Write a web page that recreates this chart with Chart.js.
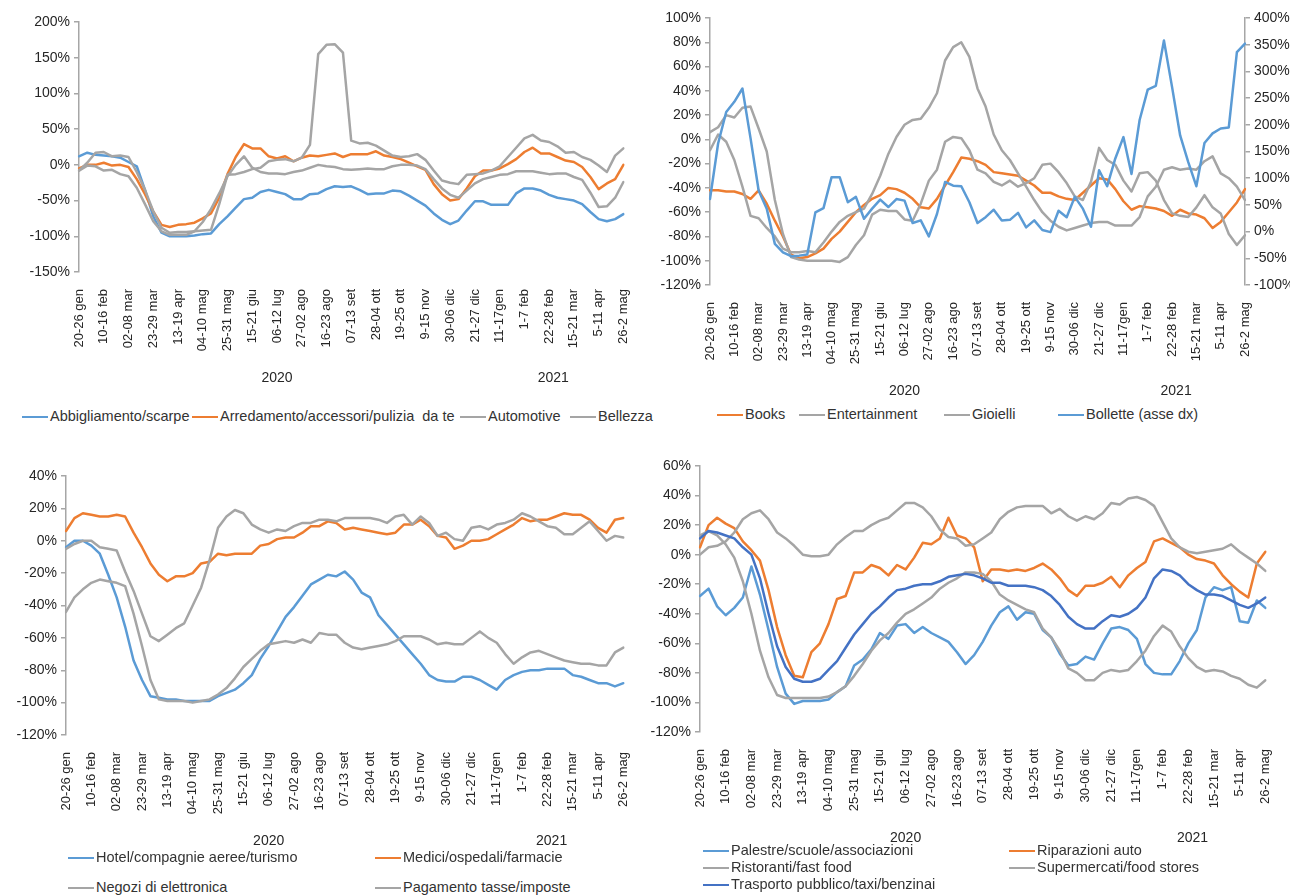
<!DOCTYPE html>
<html>
<head>
<meta charset="utf-8">
<script src="https://cdn.jsdelivr.net/npm/chart.js@4.4.0/dist/chart.umd.min.js"></script>
<style>
  html, body { margin: 0; padding: 0; background: #fff; }
  body { width: 1290px; height: 895px; position: relative; overflow: hidden;
         font-family: "Liberation Sans", Arial, sans-serif; color: #333; }
  canvas { position: absolute; }
  .lg { position: absolute; font-size: 14.5px; line-height: 18px; white-space: pre; }
  .lg i { display: inline-block; width: 26px; height: 2.5px; vertical-align: middle; margin-right: 2px; }
</style>
</head>
<body>
<canvas id="c1" width="648" height="400" style="left:0;top:0"></canvas>
<canvas id="c2" width="645" height="400" style="left:645px;top:0"></canvas>
<canvas id="c3" width="648" height="420" style="left:0;top:440px"></canvas>
<canvas id="c4" width="645" height="420" style="left:645px;top:440px"></canvas>
<script>
// week axis: one label every third week
const tickLabels = ["20-26 gen", "10-16 feb", "02-08 mar", "23-29 mar", "13-19 apr", "04-10 mag",
  "25-31 mag", "15-21 giu", "06-12 lug", "27-02 ago", "16-23 ago", "07-13 set", "28-04 ott",
  "19-25 ott", "9-15 nov", "30-06 dic", "21-27 dic", "11-17gen", "1-7 feb", "22-28 feb",
  "15-21 mar", "5-11 apr", "26-2 mag"];
const yearLabels = ["2020", "2021"];
const yearFrom = [0, 49];
const yearTo = [48, 66];

// top left
const abbigliamento = [12, 17, 14, 13, 12, 10, 4, -2, -35, -72, -95, -100, -100, -100, -99, -97, -96, -83, -72, -60,
  -48, -46, -38, -35, -38, -41, -48, -48, -41, -40, -34, -30, -31, -30, -35, -41, -40, -40, -36, -37,
  -43, -50, -57, -68, -77, -83, -78, -64, -51, -51, -56, -56, -56, -40, -33, -33, -36, -42, -46, -48,
  -50, -55, -66, -76, -79, -76, -69];
const arredamento = [-5, 0, 0, 3, -1, 0, -3, -20, -41, -65, -84, -87, -84, -83, -81, -75, -68, -46, -13, 11,
  29, 23, 23, 12, 9, 12, 5, 10, 13, 12, 14, 16, 11, 15, 15, 15, 19, 13, 11, 8,
  3, -2, -7, -27, -41, -50, -48, -33, -16, -8, -8, -5, 1, 8, 18, 24, 16, 16, 11, 6,
  4, -3, -17, -34, -26, -20, 0];
const automotive = [-8, 3, 17, 18, 12, 13, 11, -10, -35, -65, -88, -95, -94, -94, -93, -92, -91, -55, -14, -13,
  -10, -6, -4, 5, 7, 8, 5, 10, 28, 155, 168, 169, 157, 34, 30, 31, 27, 20, 13, 11,
  12, 15, 7, -8, -22, -25, -27, -14, -13, -12, -8, -2, 11, 24, 37, 42, 34, 32, 26, 17,
  18, 11, 7, -1, -10, 13, 23];
const bellezza = [-8, -1, -2, -8, -7, -13, -16, -32, -55, -79, -93, -98, -98, -98, -93, -80, -62, -40, -16, 0,
  12, -4, -10, -12, -12, -13, -10, -8, -4, 0, -2, -3, -6, -7, -6, -5, -6, -6, -2, 0,
  0, -1, -6, -20, -33, -42, -46, -36, -26, -20, -17, -14, -13, -9, -9, -9, -11, -13, -12, -12,
  -17, -21, -39, -59, -58, -46, -24];

// top right (bollette on the right axis)
const books = [-42, -42, -43, -43, -45, -49, -42, -53, -67, -80, -95, -98, -97, -94, -90, -82, -76, -68, -60, -54,
  -49, -46, -40, -41, -44, -49, -56, -57, -49, -38, -27, -15, -16, -18, -21, -27, -28, -29, -30, -34,
  -38, -44, -44, -47, -49, -50, -44, -38, -32, -33, -41, -51, -58, -55, -56, -57, -59, -63, -58, -61,
  -62, -65, -73, -68, -60, -52, -41];
const entertainment = [6, 10, 20, 18, 26, 27, 9, -10, -50, -78, -97, -99, -100, -100, -100, -100, -101, -97, -87, -79,
  -62, -58, -59, -59, -66, -67, -53, -34, -25, -2, 2, 1, -9, -25, -28, -35, -38, -34, -39, -36,
  -32, -21, -20, -27, -36, -47, -50, -35, -7, -17, -21, -34, -43, -28, -27, -34, -50, -61, -63, -64,
  -56, -46, -56, -61, -78, -87, -79];
const gioielli = [-9, 4, -2, -17, -39, -63, -65, -73, -80, -90, -93, -93, -92, -93, -85, -76, -68, -63, -60, -57,
  -45, -30, -12, 2, 12, 16, 17, 26, 38, 65, 76, 80, 68, 42, 27, 4, -9, -17, -28, -39,
  -50, -60, -67, -72, -75, -73, -71, -69, -68, -68, -71, -71, -71, -64, -47, -39, -25, -23, -25, -24,
  -25, -18, -14, -28, -32, -39, -50];
const bollette = [61, 165, 224, 243, 268, 175, 77, 43, -23, -39, -46, -45, -43, 36, 44, 102, 102, 55, 65, 24,
  43, 60, 46, 61, 58, 16, 21, -9, 33, 93, 86, 85, 55, 16, 27, 41, 21, 22, 35, 8,
  21, 3, -1, 39, 27, 65, 43, 9, 115, 85, 137, 177, 108, 209, 266, 273, 358, 271, 180, 130,
  85, 166, 184, 193, 195, 336, 352];

// bottom left
const hotel = [-4, 0, 0, -3, -8, -21, -35, -53, -74, -86, -96, -97, -98, -98, -99, -99, -99, -99, -96, -94,
  -92, -88, -83, -73, -65, -56, -47, -41, -34, -27, -24, -21, -22, -19, -24, -32, -35, -46, -52, -58,
  -64, -70, -76, -83, -86, -87, -87, -84, -84, -86, -89, -92, -86, -83, -81, -80, -80, -79, -79, -79,
  -83, -84, -86, -88, -88, -90, -88];
const medici = [6, 14, 17, 16, 15, 15, 16, 15, 5, -4, -14, -21, -25, -22, -22, -20, -14, -13, -8, -9,
  -8, -8, -8, -3, -2, 1, 2, 2, 5, 9, 9, 12, 11, 7, 8, 7, 6, 5, 4, 5,
  10, 10, 13, 9, 3, 2, -5, -3, 0, 0, 1, 4, 7, 10, 14, 12, 13, 13, 15, 17,
  16, 16, 13, 8, 5, 13, 14];
const negozi = [-5, -2, 0, 0, -4, -5, -6, -19, -31, -45, -59, -62, -58, -54, -51, -40, -29, -12, 8, 15,
  19, 17, 10, 7, 5, 7, 6, 9, 11, 11, 13, 13, 12, 14, 14, 14, 14, 13, 11, 15,
  16, 10, 15, 11, 3, 5, 1, 0, 8, 9, 7, 10, 11, 13, 17, 15, 12, 9, 8, 4,
  4, 8, 12, 6, 0, 3, 2];
const pagamento = [-44, -35, -30, -26, -24, -25, -26, -28, -45, -65, -86, -98, -99, -99, -99, -100, -99, -98, -95, -91,
  -85, -78, -73, -68, -64, -63, -62, -63, -61, -63, -57, -58, -58, -63, -66, -67, -66, -65, -64, -62,
  -59, -59, -59, -61, -64, -63, -64, -64, -60, -56, -60, -63, -70, -76, -72, -69, -68, -70, -72, -74,
  -75, -76, -76, -77, -77, -69, -66];

// bottom right
const palestre = [-28, -23, -35, -41, -36, -29, -8, -27, -51, -76, -94, -101, -99, -99, -99, -98, -93, -89, -75, -71,
  -64, -53, -57, -48, -47, -53, -49, -53, -56, -59, -66, -74, -68, -59, -48, -39, -35, -44, -39, -40,
  -51, -56, -67, -75, -74, -69, -71, -60, -50, -49, -51, -57, -74, -80, -81, -81, -72, -60, -51, -29,
  -22, -24, -22, -45, -46, -31, -36];
const riparazioni = [5, 20, 25, 21, 18, 9, 3, -4, -24, -49, -68, -82, -83, -66, -60, -47, -30, -28, -12, -12,
  -7, -9, -14, -7, -10, -2, 8, 7, 11, 25, 13, 11, 5, -18, -10, -10, -11, -10, -11, -9,
  -6, -10, -16, -24, -28, -21, -21, -19, -15, -22, -14, -9, -5, 9, 11, 8, 5, 0, -3, -4,
  -6, -14, -20, -25, -29, -6, 2];
const ristoranti = [13, 16, 13, 7, -2, -18, -40, -65, -83, -95, -97, -97, -97, -97, -97, -96, -93, -89, -82, -74,
  -65, -58, -53, -46, -40, -37, -33, -29, -23, -19, -16, -12, -12, -13, -18, -27, -31, -34, -37, -39,
  -50, -56, -65, -77, -80, -85, -85, -80, -78, -79, -78, -72, -65, -55, -48, -52, -62, -70, -76, -79,
  -78, -79, -82, -84, -88, -90, -85];
const supermercati = [0, 5, 6, 9, 15, 24, 28, 30, 24, 15, 11, 6, 0, -1, -1, 0, 7, 12, 16, 16,
  20, 23, 25, 30, 35, 35, 32, 26, 17, 12, 11, 6, 7, 11, 15, 24, 29, 32, 33, 33,
  33, 28, 31, 26, 23, 26, 24, 28, 35, 34, 38, 39, 37, 33, 22, 11, 5, 2, 1, 2,
  3, 4, 7, 2, -2, -6, -11];
const trasporto = [11, 16, 15, 13, 11, 5, 0, -16, -40, -62, -76, -84, -86, -86, -84, -78, -72, -63, -54, -47,
  -40, -35, -29, -24, -23, -21, -20, -20, -18, -15, -14, -13, -14, -16, -19, -19, -21, -21, -21, -22,
  -24, -28, -34, -42, -47, -50, -50, -45, -41, -42, -40, -36, -29, -16, -10, -11, -14, -20, -24, -27,
  -27, -28, -31, -34, -36, -33, -29];

const weeks = abbigliamento.map((_, i) => (i % 3 === 0 ? tickLabels[i / 3] : ""));

const BLUE = "#5B9BD5", ORANGE = "#ED7D31", GRAY = "#A5A5A5", NAVY = "#4472C4";
const AXIS = "#A6A6A6", TEXT = "#262626";

function series(label, data, color, axis) {
  return {
    label, data, borderColor: color, backgroundColor: color,
    borderWidth: 2.5, pointRadius: 0, tension: 0, fill: false,
    borderJoinStyle: "round", borderCapStyle: "round", yAxisID: axis || "y"
  };
}

function yAxis(min, max, step, width, position) {
  return {
    position: position || "left", min, max,
    afterFit: (s) => { s.width = width; },
    border: { display: true, color: AXIS, width: 1.5 },
    grid: { drawOnChartArea: false, drawTicks: true, tickLength: 5, color: AXIS, lineWidth: 1.5 },
    ticks: {
      stepSize: step, padding: 4, color: TEXT,
      font: { family: "Liberation Sans", size: 14 },
      callback: (v) => v + "%"
    }
  };
}

const yearPlugin = {
  id: "years",
  afterDraw(chart) {
    const x = chart.scales.x;
    const ctx = chart.ctx;
    ctx.save();
    ctx.font = "14px 'Liberation Sans'";
    ctx.fillStyle = TEXT;
    ctx.textAlign = "center";
    ctx.textBaseline = "middle";
    yearLabels.forEach((y, i) => {
      const px = (x.getPixelForValue(yearFrom[i]) + x.getPixelForValue(yearTo[i])) / 2;
      ctx.fillText(y, px, chart.chartArea.bottom + 106);
    });
    ctx.restore();
  }
};

function makeChart(id, datasets, scales, pad, xHeight) {
  const n = datasets.length;
  datasets.forEach((d, i) => { d.order = n - i; });
  scales.x = {
    afterFit: (s) => { s.height = xHeight; },
    border: { display: false },
    grid: { display: false },
    ticks: {
      autoSkip: false, maxRotation: 90, minRotation: 90, padding: 9, color: TEXT,
      font: { family: "Liberation Sans", size: 13 }
    }
  };
  return new Chart(document.getElementById(id), {
    type: "line",
    data: { labels: weeks, datasets },
    options: {
      responsive: false,
      animation: false,
      layout: { padding: { top: pad.top, right: pad.right, left: 0, bottom: 0 } },
      plugins: { legend: { display: false }, tooltip: { enabled: false } },
      scales
    },
    plugins: [yearPlugin]
  });
}

function legend(chart, spots) {
  chart.data.datasets.forEach((ds, i) => {
    const d = document.createElement("div");
    d.className = "lg";
    d.style.left = spots[i][0] + "px";
    d.style.top = (spots[i][1] - 9) + "px";
    const mark = document.createElement("i");
    mark.style.background = ds.borderColor;
    const txt = document.createElement("span");
    txt.textContent = ds.label;
    d.appendChild(mark);
    d.appendChild(txt);
    document.body.appendChild(d);
  });
}

const ch1 = makeChart("c1", [
  series("Abbigliamento/scarpe", abbigliamento, BLUE),
  series("Arredamento/accessori/pulizia  da te", arredamento, ORANGE),
  series("Automotive", automotive, GRAY),
  series("Bellezza", bellezza, GRAY)
], { y: yAxis(-150, 200, 50, 79) }, { top: 22, right: 10 }, 128);
legend(ch1, [[22, 416], [192, 416], [460, 416], [570, 416]]);

const ch2 = makeChart("c2", [
  series("Books", books, ORANGE),
  series("Entertainment", entertainment, GRAY),
  series("Gioielli", gioielli, GRAY),
  series("Bollette (asse dx)", bollette, BLUE, "y2")
], {
  y: yAxis(-120, 100, 20, 65),
  y2: yAxis(-100, 400, 50, 45, "right")
}, { top: 18, right: 0 }, 115);
legend(ch2, [[717, 414], [799, 414], [944, 414], [1058, 414]]);

const ch3 = makeChart("c3", [
  series("Hotel/compagnie aeree/turismo", hotel, BLUE),
  series("Medici/ospedali/farmacie", medici, ORANGE),
  series("Negozi di elettronica", negozi, GRAY),
  series("Pagamento tasse/imposte", pagamento, GRAY)
], { y: yAxis(-120, 40, 20, 66) }, { top: 36, right: 14 }, 125);
legend(ch3, [[68, 857], [375, 857], [68, 887], [375, 887]]);

const ch4 = makeChart("c4", [
  series("Palestre/scuole/associazioni", palestre, BLUE),
  series("Riparazioni auto", riparazioni, ORANGE),
  series("Ristoranti/fast food", ristoranti, GRAY),
  series("Supermercati/food stores", supermercati, GRAY),
  series("Trasporto pubblico/taxi/benzinai", trasporto, NAVY)
], { y: yAxis(-120, 60, 20, 55) }, { top: 26, right: 21 }, 128);
legend(ch4, [[703, 850], [1009, 850], [703, 867], [1009, 867], [703, 884]]);
</script>
</body>
</html>
